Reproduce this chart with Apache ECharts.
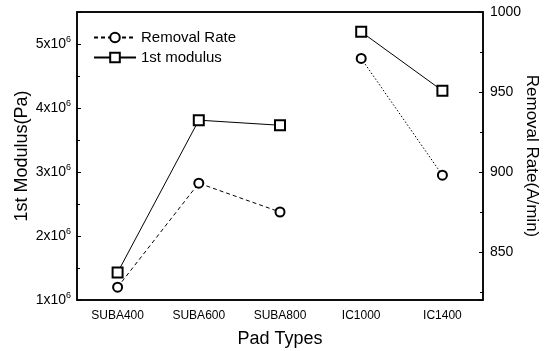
<!DOCTYPE html>
<html>
<head>
<meta charset="utf-8">
<script src="https://cdn.jsdelivr.net/npm/echarts@6/dist/echarts.min.js"></script>
<style>
  html, body { margin: 0; padding: 0; background: #fff; }
  #chart { width: 551px; height: 351px; }
</style>
</head>
<body>
<div id="chart"></div>
<script>
const padTypes = ["SUBA400", "SUBA600", "SUBA800", "IC1000", "IC1400"];
const padGroup = ["SUBA", "SUBA", "SUBA", "IC", "IC"];
const removalRate = [828, 893, 875, 971, 898];
const modulus = [1.43e6, 3.81e6, 3.73e6, 5.19e6, 4.27e6];

// split each series by pad family so the two families aren't joined
const pick = (arr, g) => arr.map((v, i) => (padGroup[i] === g ? v : "-"));

const font = "Liberation Sans, Arial, sans-serif";
const chart = echarts.init(document.getElementById("chart"), null, { renderer: "canvas" });

const option = {
  animation: false,
  backgroundColor: "#fff",
  textStyle: { fontFamily: font, color: "#000" },
  grid: {
    left: 77, right: 68, top: 12, bottom: 51,
    outerBoundsMode: "none",
    show: true, borderColor: "#000", borderWidth: 1.5,
  },
  legend: {
    orient: "vertical",
    left: 88, top: 25,
    itemWidth: 42, itemHeight: 12, itemGap: 5,
    data: ["Removal Rate", "1st modulus"],
    textStyle: { fontSize: 15, color: "#000", fontFamily: font },
  },
  xAxis: [
    {
      type: "category",
      data: padTypes,
      name: "Pad Types",
      nameLocation: "middle",
      nameGap: 30,
      nameMoveOverlap: false,
      nameTextStyle: { fontSize: 18, color: "#000" },
      axisLine: { lineStyle: { color: "#000", width: 1.5 } },
      axisTick: { inside: true, alignWithLabel: true, length: 4, lineStyle: { color: "#000" } },
      axisLabel: { fontSize: 12, color: "#000", margin: 10 },
    },
    {
      type: "category",
      data: padTypes,
      position: "top",
      axisLine: { lineStyle: { color: "#000", width: 1.5 } },
      axisTick: { inside: true, interval: 0, length: 4, lineStyle: { color: "#000" } },
      axisLabel: { show: false },
    },
  ],
  yAxis: [
    {
      type: "value",
      min: 1e6, max: 5.5e6, interval: 1e6,
      name: "1st Modulus(Pa)",
      nameLocation: "middle",
      nameGap: 46,
      nameMoveOverlap: false,
      nameTextStyle: { fontSize: 18, color: "#000" },
      axisLine: { show: true, lineStyle: { color: "#000", width: 1.5 } },
      axisTick: { show: true, inside: true, length: 4, lineStyle: { color: "#000" } },
      minorTick: { show: true, splitNumber: 2, length: 3, lineStyle: { color: "#000" } },
      splitLine: { show: false },
      axisLabel: {
        margin: 6,
        formatter: v => (v % 1e6 === 0 ? `{m|${v / 1e6}x10}{e|6}` : ""),
        rich: {
          m: { fontSize: 14, color: "#000", fontFamily: font },
          e: { fontSize: 9, color: "#000", fontFamily: font, padding: [0, 0, 9, 0] },
        },
      },
    },
    {
      type: "value",
      min: 820, max: 1000, splitNumber: 4,
      position: "right",
      name: "Removal Rate(A/min)",
      nameLocation: "middle",
      nameGap: 40,
      nameMoveOverlap: false,
      nameRotate: -90,
      nameTextStyle: { fontSize: 17, color: "#000" },
      axisLine: { show: true, lineStyle: { color: "#000", width: 1.5 } },
      axisTick: { show: true, inside: true, length: 4, lineStyle: { color: "#000" } },
      minorTick: { show: true, splitNumber: 2, length: 3, lineStyle: { color: "#000" } },
      splitLine: { show: false },
      axisLabel: {
        fontSize: 14, color: "#000", margin: 7,
        formatter: v => (v % 50 === 0 ? String(v) : ""),
      },
    },
  ],
  series: [
    {
      name: "Removal Rate", type: "line", yAxisIndex: 1,
      data: pick(removalRate, "SUBA"),
      symbol: "emptyCircle", symbolSize: 9,
      itemStyle: { color: "#000", borderWidth: 1.5 },
      lineStyle: { color: "#000", width: 1, type: [4, 3] },
    },
    {
      name: "Removal Rate", type: "line", yAxisIndex: 1,
      data: pick(removalRate, "IC"),
      symbol: "emptyCircle", symbolSize: 9,
      itemStyle: { color: "#000", borderWidth: 1.5 },
      lineStyle: { color: "#000", width: 1, type: [1.5, 2] },
    },
    {
      name: "1st modulus", type: "line", yAxisIndex: 0,
      data: pick(modulus, "SUBA"),
      symbol: "emptyRect", symbolSize: 10,
      itemStyle: { color: "#000", borderWidth: 1.5 },
      lineStyle: { color: "#000", width: 1 },
    },
    {
      name: "1st modulus", type: "line", yAxisIndex: 0,
      data: pick(modulus, "IC"),
      symbol: "emptyRect", symbolSize: 10,
      itemStyle: { color: "#000", borderWidth: 1.5 },
      lineStyle: { color: "#000", width: 1 },
    },
  ],
};

chart.setOption(option);
</script>
</body>
</html>
